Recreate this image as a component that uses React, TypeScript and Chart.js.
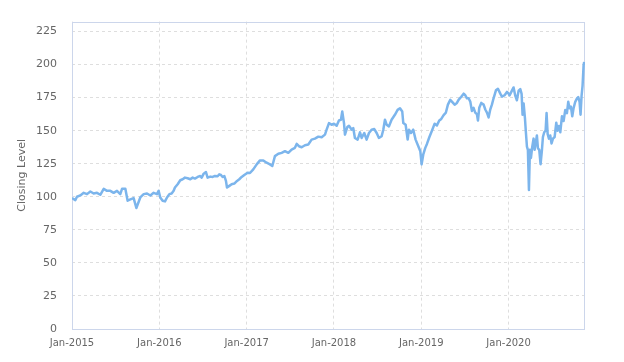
import React, { useEffect, useRef } from "react";
import { Chart, registerables } from "chart.js";

Chart.register(...registerables);

// Decimal-year positions of each observation
const times: number[] = [
  2015.000, 2015.038, 2015.057, 2015.095, 2015.134, 2015.172, 2015.210, 2015.248, 2015.286, 2015.324,
  2015.363, 2015.401, 2015.439, 2015.477, 2015.515, 2015.553, 2015.573, 2015.611, 2015.637, 2015.668,
  2015.706, 2015.737, 2015.782, 2015.821, 2015.859, 2015.897, 2015.935, 2015.973, 2015.992,
  2016.011, 2016.038, 2016.065, 2016.088, 2016.115, 2016.141, 2016.164, 2016.179, 2016.210, 2016.240,
  2016.267, 2016.294, 2016.324, 2016.355, 2016.382, 2016.408, 2016.439, 2016.469, 2016.485, 2016.508,
  2016.534, 2016.553, 2016.584, 2016.611, 2016.637, 2016.668, 2016.687, 2016.706, 2016.725, 2016.744,
  2016.763, 2016.775, 2016.802, 2016.828, 2016.859, 2016.890, 2016.916, 2016.943, 2016.973,
  2017.011, 2017.038, 2017.076, 2017.115, 2017.153, 2017.191, 2017.229, 2017.267, 2017.294, 2017.324,
  2017.363, 2017.401, 2017.439, 2017.477, 2017.515, 2017.553, 2017.573, 2017.599, 2017.630, 2017.668,
  2017.706, 2017.744, 2017.782, 2017.821, 2017.859, 2017.897, 2017.916, 2017.943, 2017.973,
  2018.000, 2018.031, 2018.057, 2018.080, 2018.095, 2018.115, 2018.126, 2018.153, 2018.172, 2018.202,
  2018.221, 2018.240, 2018.271, 2018.298, 2018.317, 2018.347, 2018.374, 2018.401, 2018.431, 2018.462,
  2018.489, 2018.515, 2018.546, 2018.565, 2018.584, 2018.603, 2018.630, 2018.660, 2018.698, 2018.729,
  2018.756, 2018.782, 2018.794, 2018.821, 2018.844, 2018.859, 2018.882, 2018.908, 2018.935, 2018.966,
  2018.989, 2019.004, 2019.023, 2019.046, 2019.065, 2019.092, 2019.122, 2019.153, 2019.179, 2019.206,
  2019.229, 2019.256, 2019.282, 2019.305, 2019.332, 2019.351, 2019.382, 2019.408, 2019.427, 2019.458,
  2019.485, 2019.504, 2019.523, 2019.542, 2019.561, 2019.580, 2019.599, 2019.618, 2019.637, 2019.649,
  2019.664, 2019.687, 2019.714, 2019.733, 2019.752, 2019.771, 2019.790, 2019.809, 2019.828, 2019.855,
  2019.878, 2019.905, 2019.924, 2019.954, 2019.981,
  2020.000, 2020.011, 2020.038, 2020.057, 2020.076, 2020.095, 2020.115, 2020.134, 2020.149, 2020.160,
  2020.172, 2020.187, 2020.198, 2020.210, 2020.221, 2020.233, 2020.244, 2020.256, 2020.271, 2020.286,
  2020.298, 2020.313, 2020.324, 2020.336, 2020.351, 2020.366, 2020.382, 2020.393, 2020.408, 2020.424,
  2020.435, 2020.447, 2020.462, 2020.477, 2020.492, 2020.508, 2020.527, 2020.546, 2020.561, 2020.576,
  2020.592, 2020.611, 2020.630, 2020.649, 2020.668, 2020.683, 2020.698, 2020.714, 2020.729, 2020.744,
  2020.763, 2020.782, 2020.798, 2020.813, 2020.824, 2020.836, 2020.847, 2020.859, 2020.866,
];

// Closing level at each observation
const closes: number[] = [
  99, 97.5, 100, 101, 103, 102, 104, 102.5, 103, 101.5,
  106, 104.5, 104.5, 103, 104.5, 102, 106, 106, 97, 98,
  99, 91.5, 99.5, 102, 102.5, 101, 103, 102, 104.5,
  99.5, 97, 96.5, 99.5, 102, 102.5, 104.5, 107, 109.5, 112.5,
  113.25, 114.5, 114, 113.25, 114.5, 113.75, 115, 115.75, 114.5, 117.5,
  118.75, 114.5, 115.25, 115, 115.75, 115.5, 117, 116.5, 115, 115.75,
  112, 107, 108.25, 109.5, 110, 112, 113.25, 115, 116.5,
  118.25, 118, 120.75, 124.5, 127.5, 127.5, 125.75, 124.5, 123.25, 130.75,
  132.5, 133.25, 134.5, 133.25, 135.75, 137, 140, 138.25, 137.5, 139,
  139.5, 143.25, 144, 145.5, 145, 147, 150.75, 155.75, 154.5,
  155.25, 153.75, 157.75, 158.25, 164.5, 155.75, 147, 152.75, 153.75, 150.75,
  152, 144.5, 143.25, 148.75, 144.5, 148.25, 143.25, 148.25, 150.75, 151.25,
  148.25, 144.5, 145.75, 150.75, 158.25, 154.5, 153.25, 158.25, 162, 165.75,
  167, 164.5, 155.75, 154.5, 143.25, 150.75, 148.25, 150.75, 143.25, 138.25,
  134.5, 124.5, 132, 137, 140, 145, 150, 155.3, 154, 157.7,
  158.9, 161.8, 163.7, 169.7, 173.3, 172, 169.7, 171, 173.3, 175.7,
  178, 176.8, 174.5, 174.5, 172, 164.9, 167.3, 163.7, 162.5, 157.7,
  167.3, 171, 169.7, 166, 163.7, 160, 166, 169.7, 174.5, 180.5,
  181.7, 178, 175.7, 176.8, 179.3,
  178, 176.6, 180.3, 182.7, 176.6, 173, 180.3, 181.5, 177.8, 162.1,
  170.6, 159.7, 148.8, 137.9, 135.5, 105.2, 135.5, 129.4, 137.9, 144,
  135.5, 141.5, 146.4, 136.7, 135.5, 124.6, 135.5, 145.2, 148.8, 150,
  163.3, 147.6, 144, 146.4, 140.3, 144, 145.2, 156, 150, 153.6,
  148.8, 160.9, 157.3, 165.7, 163.3, 171.8, 167, 168.2, 160.9, 167,
  171.8, 174.2, 175.4, 171.8, 162.1, 176.6, 183.9, 199.6, 202,
];

const xStart = 2015;
const xEnd = 2020.875;
const yMin = 0;
const yMax = 232.5;
const yStep = 25;
const tickPrefix = "Jan-";
const yTitle = "Closing Level";

const frame = {
  id: "frame",
  beforeDatasetsDraw(chart: any) {
    const { ctx, chartArea } = chart;
    ctx.save();
    ctx.strokeStyle = "#ccd6eb";
    ctx.lineWidth = 1;
    ctx.setLineDash([]);
    ctx.strokeRect(
      Math.round(chartArea.left) + 0.5,
      Math.round(chartArea.top) + 0.5,
      Math.round(chartArea.right - chartArea.left) - 1,
      Math.round(chartArea.bottom - chartArea.top)
    );
    ctx.restore();
  },
};

export default function App() {
  const ref = useRef<HTMLCanvasElement | null>(null);

  useEffect(() => {
    if (!ref.current) return;
    const data = times.map((t, i) => ({ x: t, y: closes[i] }));
    const chart = new Chart(ref.current, {
      type: "line",
      data: {
        datasets: [
          {
            data,
            borderColor: "#7cb5ec",
            backgroundColor: "#7cb5ec",
            borderWidth: 2.5,
            borderJoinStyle: "round",
            pointRadius: 0,
            tension: 0,
            fill: false,
          },
        ],
      },
      options: {
        animation: false,
        responsive: false,
        layout: { padding: { top: 13, right: 39, left: 0, bottom: 0 } },
        plugins: {
          legend: { display: false },
          tooltip: { enabled: false },
        },
        scales: {
          x: {
            type: "linear",
            min: xStart,
            max: xEnd,
            afterFit: (s: any) => {
              s.height = 33;
            },
            grid: { color: "#dedede", drawTicks: false },
            border: { display: false, dash: [3, 3] },
            ticks: {
              stepSize: 1,
              includeBounds: false,
              autoSkip: false,
              maxRotation: 0,
              padding: 8,
              color: "#666666",
              font: { family: "DejaVu Sans", size: 10 },
              callback: (v: any) => tickPrefix + v,
            },
          },
          y: {
            type: "linear",
            min: yMin,
            max: yMax,
            afterFit: (s: any) => {
              s.width = 72;
            },
            grid: { color: "#dedede", drawTicks: false },
            border: { display: false, dash: [3, 3] },
            ticks: {
              stepSize: yStep,
              includeBounds: false,
              padding: 15,
              color: "#666666",
              font: { family: "DejaVu Sans", size: 11 },
            },
            title: {
              display: true,
              text: yTitle,
              color: "#666666",
              font: { family: "DejaVu Sans", size: 11 },
              padding: { top: 16, bottom: 0 },
            },
          },
        },
      },
      plugins: [frame],
    });
    return () => chart.destroy();
  }, []);

  return (
    <div style={{ position: "fixed", left: 0, top: 0, width: 624, height: 362, background: "#fff" }}>
      <canvas ref={ref} width={624} height={362} style={{ width: 624, height: 362 }} />
    </div>
  );
}
